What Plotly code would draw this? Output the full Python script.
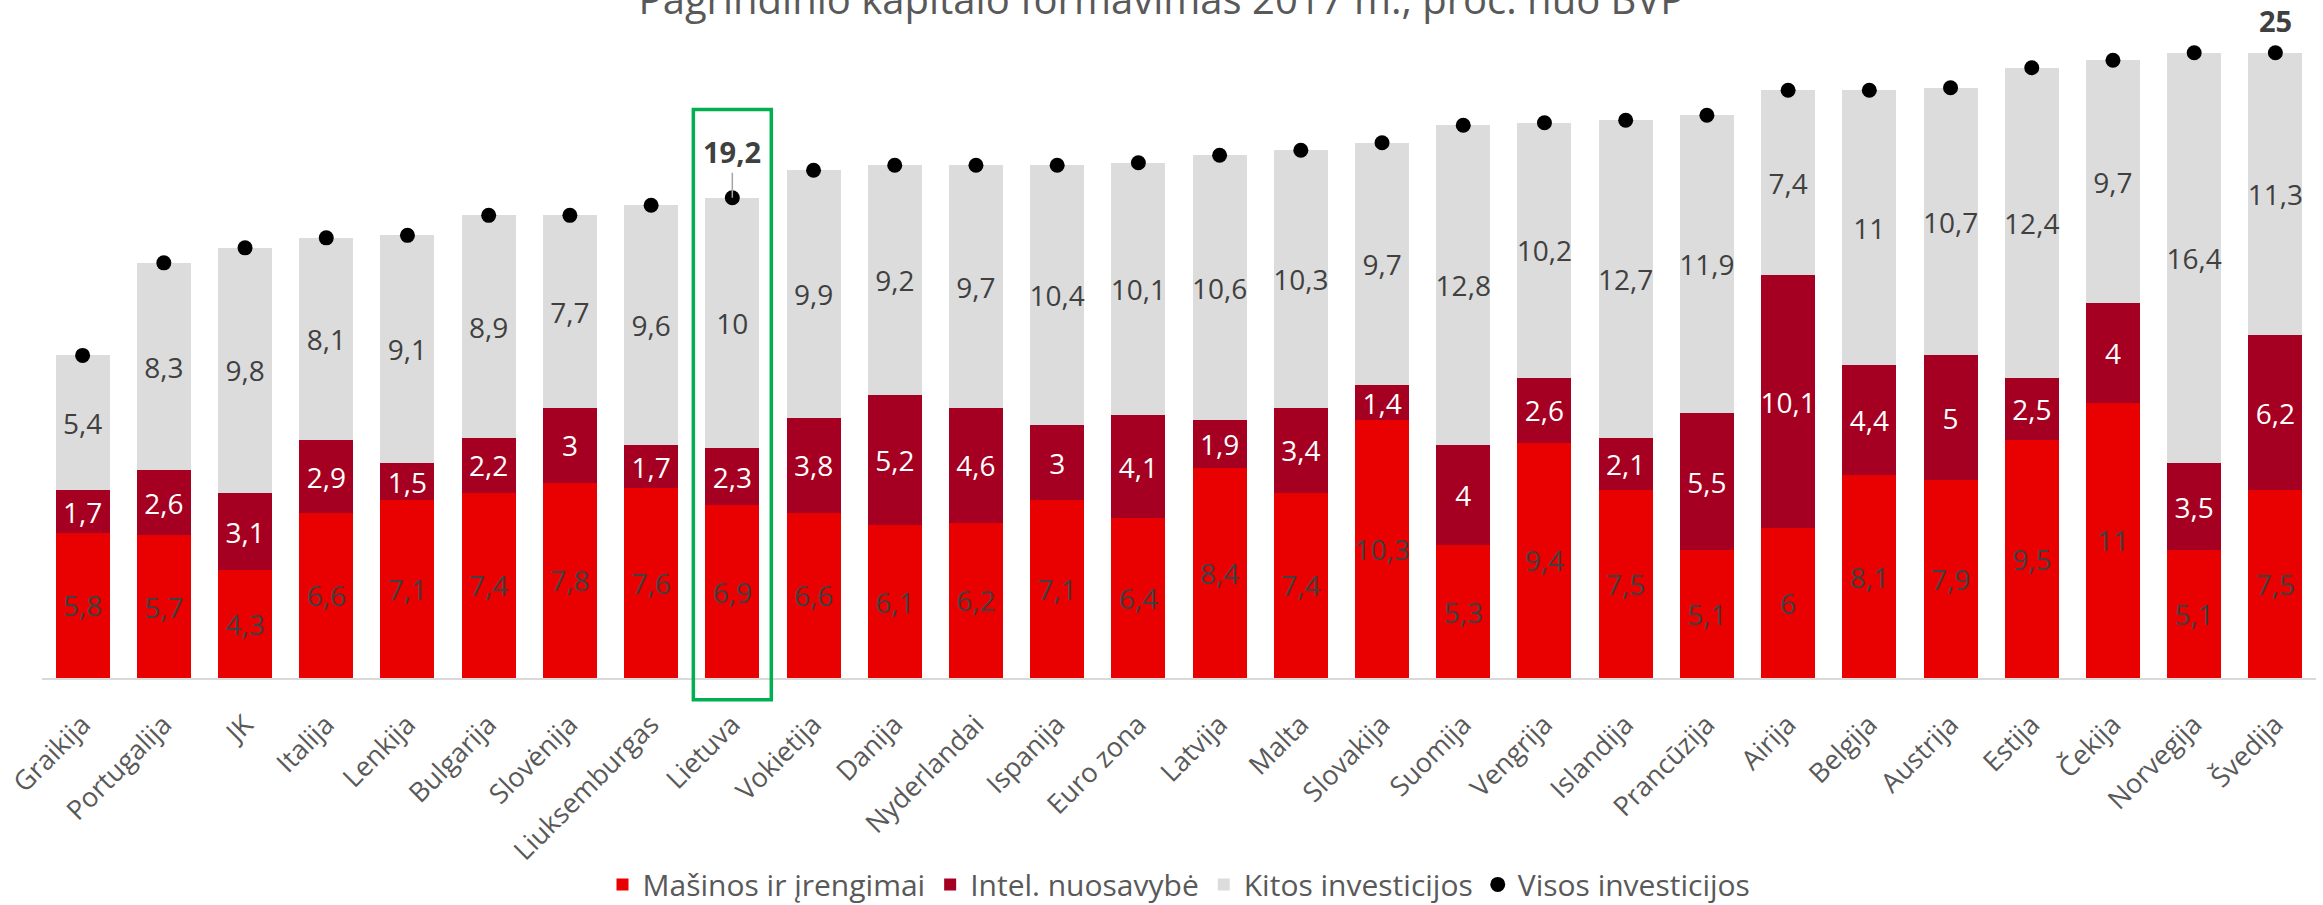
import plotly.graph_objects as go

# Duomenys (proc. nuo BVP, 2017 m.)
salys = ['Graikija', 'Portugalija', 'JK', 'Italija', 'Lenkija', 'Bulgarija', 'Slovėnija',
         'Liuksemburgas', 'Lietuva', 'Vokietija', 'Danija', 'Nyderlandai', 'Ispanija',
         'Euro zona', 'Latvija', 'Malta', 'Slovakija', 'Suomija', 'Vengrija', 'Islandija',
         'Prancūzija', 'Airija', 'Belgija', 'Austrija', 'Estija', 'Čekija', 'Norvegija', 'Švedija']
masinos = [5.8, 5.7, 4.3, 6.6, 7.1, 7.4, 7.8, 7.6, 6.9, 6.6, 6.1, 6.2, 7.1, 6.4,
           8.4, 7.4, 10.3, 5.3, 9.4, 7.5, 5.1, 6, 8.1, 7.9, 9.5, 11, 5.1, 7.5]
intel = [1.7, 2.6, 3.1, 2.9, 1.5, 2.2, 3, 1.7, 2.3, 3.8, 5.2, 4.6, 3, 4.1,
         1.9, 3.4, 1.4, 4, 2.6, 2.1, 5.5, 10.1, 4.4, 5, 2.5, 4, 3.5, 6.2]
kitos = [5.4, 8.3, 9.8, 8.1, 9.1, 8.9, 7.7, 9.6, 10, 9.9, 9.2, 9.7, 10.4, 10.1,
         10.6, 10.3, 9.7, 12.8, 10.2, 12.7, 11.9, 7.4, 11, 10.7, 12.4, 9.7, 16.4, 11.3]
visos = [12.9, 16.6, 17.2, 17.6, 17.7, 18.5, 18.5, 18.9, 19.2, 20.3, 20.5, 20.5, 20.5, 20.6,
         20.9, 21.1, 21.4, 22.1, 22.2, 22.3, 22.5, 23.5, 23.5, 23.6, 24.4, 24.7, 25.0, 25.0]


def lt(v):
    # lietuviškas dešimtainis kablelis
    return f'{v:g}'.replace('.', ',')


FONT = 'Open Sans'
GREY_TXT = '#595959'
DARK_TXT = '#404040'

fig = go.Figure()
series = [
    ('Mašinos ir įrengimai', masinos, '#E90000', DARK_TXT),
    ('Intel. nuosavybė', intel, '#A50021', 'white'),
    ('Kitos investicijos', kitos, '#DCDCDC', DARK_TXT),
]
for name, vals, col, tcol in series:
    fig.add_trace(go.Bar(
        x=salys, y=vals, name=name,
        marker=dict(color=col, line=dict(width=0)),
        text=[lt(v) for v in vals], textposition='inside', insidetextanchor='middle',
        textangle=0, insidetextfont=dict(family=FONT, size=28, color=tcol),
    ))

fig.add_trace(go.Scatter(
    x=salys, y=visos, name='Visos investicijos', mode='markers',
    marker=dict(color='black', size=15),
))

# pažymėtos reikšmės
for c in ['Lietuva', 'Švedija']:
    i = salys.index(c)
    if c == 'Lietuva':
        fig.add_annotation(x=c, y=visos[i], text=f'<b>{lt(visos[i])}</b>', showarrow=True,
                           ax=0, ay=-46, arrowhead=0, arrowwidth=1.5, arrowcolor='#A6A6A6',
                           font=dict(family=FONT, size=29, color=DARK_TXT))
    else:
        fig.add_annotation(x=c, y=visos[i], text=f'<b>{lt(visos[i])}</b>', showarrow=False,
                           yshift=32, font=dict(family=FONT, size=29, color=DARK_TXT))

# Lietuvos rėmelis
li = salys.index('Lietuva')
fig.add_shape(type='rect', xref='x', yref='paper', x0=li - 0.48, x1=li + 0.48,
              y0=-0.0325, y1=0.851, line=dict(color='#00B050', width=3.5))

fig.update_layout(
    width=2323, height=905,
    paper_bgcolor='white', plot_bgcolor='white',
    barmode='stack', bargap=0.335,
    margin=dict(l=42, r=7, t=10, b=227, autoexpand=False),
    font=dict(family=FONT, color=GREY_TXT),
    title=dict(text='Pagrindinio kapitalo formavimas 2017 m., proc. nuo BVP',
               x=0.5, xref='container', xanchor='center',
               y=1, yref='container', yanchor='middle',
               font=dict(family=FONT, size=40, color=GREY_TXT)),
    uniformtext=dict(minsize=28, mode='show'),
    showlegend=True,
    legend=dict(orientation='h', x=0.5, xanchor='center', y=-0.309, yanchor='middle',
                traceorder='normal', font=dict(family=FONT, size=30, color=GREY_TXT)),
    xaxis=dict(tickangle=-45, tickfont=dict(family=FONT, size=27, color=GREY_TXT),
               range=[-0.5, len(salys) - 0.5],
               showline=True, linecolor='#D9D9D9', linewidth=2, showgrid=False,
               ticks='', ticklabelstandoff=18, automargin=False),
    yaxis=dict(range=[0, 26.71], showticklabels=False, showgrid=False, zeroline=False,
               automargin=False),
)

fig.write_html('out.html', config={'displayModeBar': False},
               post_script="document.body.style.margin='0';document.body.style.overflow='hidden';")
